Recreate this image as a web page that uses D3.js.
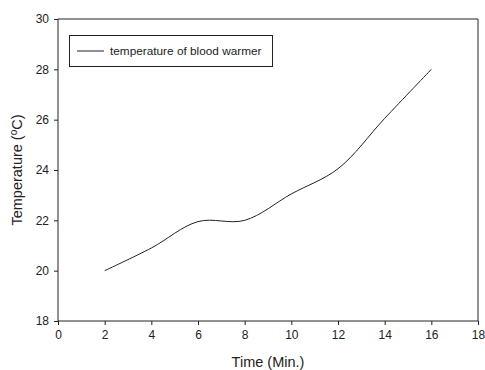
<!DOCTYPE html>
<html>
<head>
<meta charset="utf-8">
<script src="https://cdn.jsdelivr.net/npm/d3@7"></script>
<style>
  body { margin: 0; background: #fff; }
  svg { font-family: Arial, "Liberation Sans", sans-serif; }
</style>
</head>
<body>
<div class="chart"></div>
<script>
// data
const times = [2, 4, 6, 8, 10, 12, 14, 16]
const temps = [20, 20.9, 21.95, 22, 23.05, 24.05, 26.05, 28]
const xTicks = [0, 2, 4, 6, 8, 10, 12, 14, 16, 18]
const yTicks = [18, 20, 22, 24, 26, 28, 30]
const seriesName = "temperature of blood warmer"

const svgWidth = 485, svgHeight = 370
const margin = { top: 19, left: 58, bottom: 49, right: 7 }

const svg = d3.select('.chart').append('svg')
    .attr('width', svgWidth)
    .attr('height', svgHeight)

const x = d3.scaleLinear()
    .domain([0, 18])
    .range([margin.left, svgWidth - margin.right])

const y = d3.scaleLinear()
    .domain([18, 30])
    .range([svgHeight - margin.bottom, margin.top])

//AXES
const xAxis = d3.axisBottom(x).tickValues(xTicks).tickSize(4).tickPadding(5)
const yAxis = d3.axisLeft(y).tickValues(yTicks).tickSize(4).tickPadding(5)

const gx = svg.append("g")
    .attr("transform", `translate(0, ${y(18)})`)
    .call(xAxis)
const gy = svg.append("g")
    .attr("transform", `translate(${x(0)}, 0)`)
    .call(yAxis)

svg.selectAll(".tick text").attr("font-size", 12).attr("fill", "#222")
svg.selectAll(".domain, .tick line").attr("stroke", "#222")
gx.select(".domain").attr("d", `M${x(0)},0H${x(18)}`)
gy.select(".domain").attr("d", `M0,${y(18)}V${y(30)}`)

// top + right frame
svg.append("path")
    .attr("d", `M${x(0)},${y(30)}H${x(18)}V${y(18)}`)
    .attr("fill", "none")
    .attr("stroke", "#222")

//DRAW LINE
const data = times.map((t, i) => ({ t: t, v: temps[i] }))
const line = d3.line()
    .x(d => x(d.t))
    .y(d => y(d.v))
    .curve(d3.curveCatmullRom.alpha(0.5))

svg.append("path")
    .datum(data)
    .attr("fill", "none")
    .attr("stroke", "#222")
    .attr("stroke-width", 1)
    .attr("d", line)

//LEGEND
const lg = svg.append("g")
lg.append("rect")
    .attr("x", 69.5).attr("y", 35.5)
    .attr("width", 203).attr("height", 31)
    .attr("fill", "#fff")
    .attr("stroke", "#222")
lg.append("line")
    .attr("x1", 77).attr("x2", 104)
    .attr("y1", 51).attr("y2", 51)
    .attr("stroke", "#222")
lg.append("text")
    .attr("x", 110).attr("y", 55)
    .attr("font-size", 11.8)
    .attr("fill", "#222")
    .text(seriesName)

//AXIS TITLES
svg.append("text")
    .attr("x", (x(0) + x(18)) / 2)
    .attr("y", 367)
    .attr("text-anchor", "middle")
    .attr("font-size", 14.5)
    .attr("fill", "#222")
    .text("Time (Min.)")

const yl = svg.append("text")
    .attr("transform", `translate(22, ${(y(18) + y(30)) / 2}) rotate(-90)`)
    .attr("text-anchor", "middle")
    .attr("font-size", 14.5)
    .attr("fill", "#222")
yl.append("tspan").text("Temperature (")
yl.append("tspan").attr("dy", -5).attr("font-size", 10).text("o")
yl.append("tspan").attr("dy", 5).text("C)")
</script>
</body>
</html>
